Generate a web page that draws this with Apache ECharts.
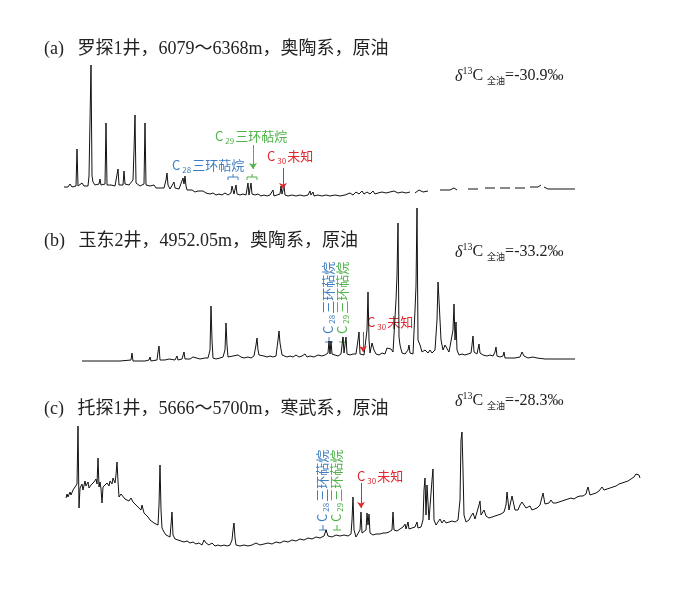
<!DOCTYPE html>
<html>
<head>
<meta charset="utf-8">
<script src="https://cdn.jsdelivr.net/npm/echarts@6/dist/echarts.min.js"></script>
<style>
  html, body { margin: 0; padding: 0; background: #fff; }
  #chart { width: 700px; height: 592px; }
</style>
</head>
<body>
<div id="chart"></div>
<script>
// retention position (t) and detector response (v)
const aTime = [4,6,8,10,12,14,16,17,18,20,22,24,26,28,29,30,31,32,33,35,37,39,40,41,43,45,46,47,49,51,53,55,57,58,59,61,63,64,65,67,69,71,73,74,75,76,78,80,82,84,85,86,88,90,92,94,96,98,100,102,104,106,107,108,110,112,114,115,117,119,121,123,124,125,126,127,129,132,135,138,140,143,146,148,150,153,156,159,162,165,168,171,172,173,174,176,177,180,183,186,188,189,191,192,195,198,201,204,207,210,213,214,217,220,221,222,224,225,228,232,236,240,244,248,250,251,253,254,258,262,266,270,275,280,285,290,293,296,299,302,304,307,310,313,315,318,322,326,330,334,338,342,346,350,351,355,359,363,368,369,380,390,394,397,398,408,418,419,425,435,436,440,450,451,455,465,466,470,478,481,482,484,488,515];
const aResp = [13,15,13,16,13,14,14,51,14,15,17,14,16,14,24,22,135,24,18,15,17,16,21,15,16,16,77,15,17,15,16,14,15,31,15,16,15,29,16,14,15,16,20,50,85,17,15,14,15,16,77,15,13,14,13,15,12,13,12,11,12,20,27,15,11,13,18,12,10,11,10,22,16,24,14,10,9,10,8,9,7,9,7,9,6,7,5,6,5,7,5,7,14,15,6,15,6,5,6,5,17,5,17,6,5,6,4,5,4,5,10,4,5,6,14,6,14,5,4,5,4,5,4,5,9,5,8,4,5,4,5,4,5,4,5,7,5,8,6,9,6,8,6,9,6,7,8,7,8,9,7,8,7,8,null,7,10,8,9,null,10,10,12,10,null,11,11,null,12,12,null,12,12,null,12,12,null,13,13,15,null,13,11,11];

const bTime = [22,40,60,71,72,73,85,89,90,91,97,98,99,100,105,109,110,111,115,117,118,122,124,125,130,133,134,135,140,145,148,150,151,152,153,156,160,163,165,166,167,168,170,173,175,178,180,181,184,188,191,194,196,197,198,199,201,204,207,210,213,216,218,219,220,221,222,224,227,230,233,236,239,242,245,247,250,254,258,262,265,268,269,270,271,272,275,278,281,283,284,286,287,290,293,296,298,299,300,302,304,306,307,308,309,310,312,314,316,319,322,325,327,329,331,333,335,336,337,338,339,340,342,345,348,349,350,353,355,356,357,358,360,362,365,368,370,372,375,377,378,379,380,381,383,385,387,389,391,393,394,395,396,397,399,402,405,408,411,412,413,414,417,419,420,423,427,430,433,435,436,437,440,443,444,445,450,455,460,462,463,464,468,473,475,477,485,500,515];
const bResp = [9,9,9,10,17,9,9,10,13,9,10,18,24,10,10,11,13,10,10,14,10,11,18,11,11,13,15,11,11,12,12,20,64,30,12,11,12,13,20,47,25,13,12,14,13,15,16,13,12,13,12,14,25,32,20,15,13,14,13,14,13,14,30,39,27,29,15,14,13,14,13,15,13,14,16,13,14,13,15,14,15,17,29,16,29,16,15,14,16,33,17,33,16,15,16,16,30,38,16,14,15,16,40,78,30,17,27,20,16,15,17,16,22,23,21,18,20,70,95,147,33,25,17,16,20,25,17,16,60,84,162,30,25,18,20,17,20,17,20,50,88,70,70,30,20,25,24,18,17,40,66,30,48,20,15,16,15,16,17,25,34,18,16,26,17,15,14,15,14,18,23,14,13,14,18,12,12,12,13,18,20,14,12,13,15,12,11,11,11];

const cTime = [6,7,8,10,11,13,15,17,18,19,20,22,23,25,26,28,29,31,33,34,36,37,38,39,40,41,42,43,45,47,49,50,52,53,55,56,57,58,59,61,63,65,67,69,71,73,75,77,79,81,82,84,86,88,90,92,94,96,98,99,100,101,102,104,106,108,110,111,112,113,115,118,121,124,127,130,133,136,139,142,144,145,146,149,152,155,158,161,164,167,170,172,173,174,175,176,180,184,188,192,196,200,204,208,212,216,220,224,228,232,236,240,242,244,248,252,256,260,264,266,268,272,276,278,280,284,288,291,292,293,294,296,298,300,301,302,304,306,307,308,309,310,313,316,320,323,326,329,332,333,334,337,340,343,345,346,348,349,352,355,357,358,361,363,364,365,366,367,368,369,371,372,373,374,376,378,380,382,384,386,389,392,395,398,400,401,402,403,404,406,409,411,413,415,417,419,420,421,423,424,426,429,432,435,438,441,444,446,447,448,449,451,452,453,455,458,460,462,464,466,468,470,472,474,477,480,482,483,485,487,489,491,493,496,499,502,505,508,511,514,517,520,523,526,527,528,530,533,536,539,541,542,544,547,550,553,556,559,562,565,568,571,574,576,578,579,580];
const cResp = [72,76,73,78,75,80,78,86,144,62,82,86,80,89,84,88,82,85,83,88,91,86,112,83,88,81,67,83,85,87,84,89,86,92,87,95,108,89,73,76,74,71,73,69,72,68,70,64,66,60,65,57,59,53,50,51,47,46,45,65,105,60,42,38,35,36,33,45,58,35,31,30,29,28,29,27,28,26,27,25,30,32,27,25,27,24,25,24,25,24,25,30,40,47,32,25,24,25,24,25,27,25,26,27,26,28,27,29,28,30,29,31,33,30,32,31,33,32,34,40,34,33,35,37,34,35,34,36,50,73,40,33,34,40,58,37,35,40,57,45,56,37,35,36,36,37,37,38,40,58,40,39,41,43,46,41,48,41,42,43,48,42,43,50,80,92,55,85,86,50,52,90,101,50,45,47,51,47,50,47,48,49,48,50,70,130,138,100,55,48,50,54,57,51,52,65,69,55,56,60,54,52,53,54,55,56,58,65,78,80,60,62,74,73,60,60,65,68,67,62,60,64,60,62,62,65,73,77,66,64,67,70,67,67,68,69,70,71,72,71,73,74,74,76,80,83,75,76,77,79,80,83,80,81,82,83,84,86,87,88,89,91,93,96,98,95,92];

const titles = [
  '(a)\u2002 罗探1井，6079～6368m，奥陶系，原油',
  '(b)\u2002 玉东2井，4952.05m，奥陶系，原油',
  '(c)\u2002 托探1井，5666～5700m，寒武系，原油'
];
const wholeOilC13 = ['-30.9‰', '-33.2‰', '-28.3‰'];

const BLUE = '#3f7fc1';
const GREEN = '#4fb24a';
const RED = '#e0282e';

const pair = (ts, vs) => ts.map((t, i) => [t, vs[i]]);

const panels = [
  { top: 50, height: 150, max: 150, data: pair(aTime, aResp) },
  { top: 200, height: 170, max: 170, data: pair(bTime, bResp) },
  { top: 400, height: 170, max: 170, data: pair(cTime, cResp) }
];

const arrows = [
  [[223, 32], [223, 11]],
  [[193, 55], [193, 31]],
  [[303, 38], [303, 18]],
  [[301, 87], [301, 62]]
];

const chart = echarts.init(document.getElementById('chart'));

const serif = '"Liberation Serif", "Noto Sans CJK SC", serif';
const sans = '"Noto Sans CJK SC", "DejaVu Sans", sans-serif';

const deltaText = (i, x, y) => ({
  type: 'text', left: x, top: y,
  style: {
    text: '{d|δ}{sup|13}{c|C }{sub|全油}{c|=' + wholeOilC13[i] + '}',
    rich: {
      d: { fontFamily: serif, fontStyle: 'italic', fontSize: 16, fill: '#222', verticalAlign: 'bottom' },
      sup: { fontFamily: serif, fontSize: 10, fill: '#222', verticalAlign: 'top', padding: [0, 0, 8, 0] },
      c: { fontFamily: serif, fontSize: 16, fill: '#222' },
      sub: { fontFamily: sans, fontSize: 9, fill: '#222', padding: [10, 0, 0, 0] }
    }
  }
});

const labelRich = color => ({
  b: { fontFamily: sans, fontSize: 13, fill: color },
  s: { fontFamily: sans, fontSize: 8, fill: color, padding: [8, 1, 0, 2] }
});

const horizLabel = (x, y, sub, word, color) => ({
  type: 'text', left: x, top: y,
  style: { text: '{b|C}{s|' + sub + '}{b|' + word + '}', rich: labelRich(color) }
});

// rotated label: (cx, bottom) is the foot of the ┴ tick under it
const vertLabel = (cx, bottom, sub, color) => [
  { type: 'line', shape: { x1: cx - 4, y1: bottom, x2: cx + 4, y2: bottom }, style: { stroke: color, lineWidth: 1 } },
  { type: 'line', shape: { x1: cx, y1: bottom, x2: cx, y2: bottom - 5 }, style: { stroke: color, lineWidth: 1 } },
  {
    type: 'text', x: cx - 9, y: bottom - 8, rotation: Math.PI / 2,
    style: { text: '{b|C}{s|' + sub + '}{b|三环萜烷}', rich: labelRich(color) }
  }
];

const bracket = (x, y, color) => [
  {
    type: 'polyline',
    shape: { points: [[x - 5, y + 3], [x - 5, y], [x + 5, y], [x + 5, y + 3]] },
    style: { stroke: color, lineWidth: 1, fill: null }
  },
  { type: 'line', shape: { x1: x, y1: y, x2: x, y2: y - 3 }, style: { stroke: color, lineWidth: 1 } }
];

chart.setOption({
  animation: false,
  grid: panels.map(p => ({ left: 60, width: 600, top: p.top, height: p.height })),
  xAxis: panels.map((p, i) => ({ type: 'value', gridIndex: i, min: 0, max: 600, show: false })),
  yAxis: panels.map((p, i) => ({ type: 'value', gridIndex: i, min: 0, max: p.max, show: false })),
  series: panels.map((p, i) => ({
    type: 'line',
    xAxisIndex: i,
    yAxisIndex: i,
    data: p.data,
    showSymbol: false,
    connectNulls: false,
    lineStyle: { color: '#111', width: 1 },
    markLine: {
      silent: true,
      symbol: ['none', 'arrow'],
      symbolSize: 6,
      label: { show: false },
      data: i === 0
        ? [
            [{ coord: arrows[0][0], lineStyle: { color: RED } }, { coord: arrows[0][1] }],
            [{ coord: arrows[1][0], lineStyle: { color: GREEN } }, { coord: arrows[1][1] }]
          ]
        : [[{ coord: arrows[i + 1][0], lineStyle: { color: RED } }, { coord: arrows[i + 1][1] }]],
      lineStyle: { type: 'solid', width: 1 }
    }
  })),
  graphic: [
    { type: 'text', left: 44, top: 40, style: { text: titles[0], fontFamily: serif, fontSize: 18, fill: '#222' } },
    { type: 'text', left: 44, top: 232, style: { text: titles[1], fontFamily: serif, fontSize: 18, fill: '#222' } },
    { type: 'text', left: 44, top: 400, style: { text: titles[2], fontFamily: serif, fontSize: 18, fill: '#222' } },
    deltaText(0, 455, 66),
    deltaText(1, 455, 242),
    deltaText(2, 455, 391),
    horizLabel(172, 159, '28', '三环萜烷', BLUE),
    horizLabel(215, 130, '29', '三环萜烷', GREEN),
    horizLabel(267, 150, '30', '未知', RED),
    ...bracket(233, 177, BLUE),
    ...bracket(252, 177, GREEN),
    horizLabel(367, 316, '30', '未知', RED),
    horizLabel(357, 470, '30', '未知', RED),
    ...vertLabel(329, 342, '28', BLUE),
    ...vertLabel(343, 342, '29', GREEN),
    ...vertLabel(323, 530, '28', BLUE),
    ...vertLabel(337, 530, '29', GREEN)
  ]
});
</script>
</body>
</html>
